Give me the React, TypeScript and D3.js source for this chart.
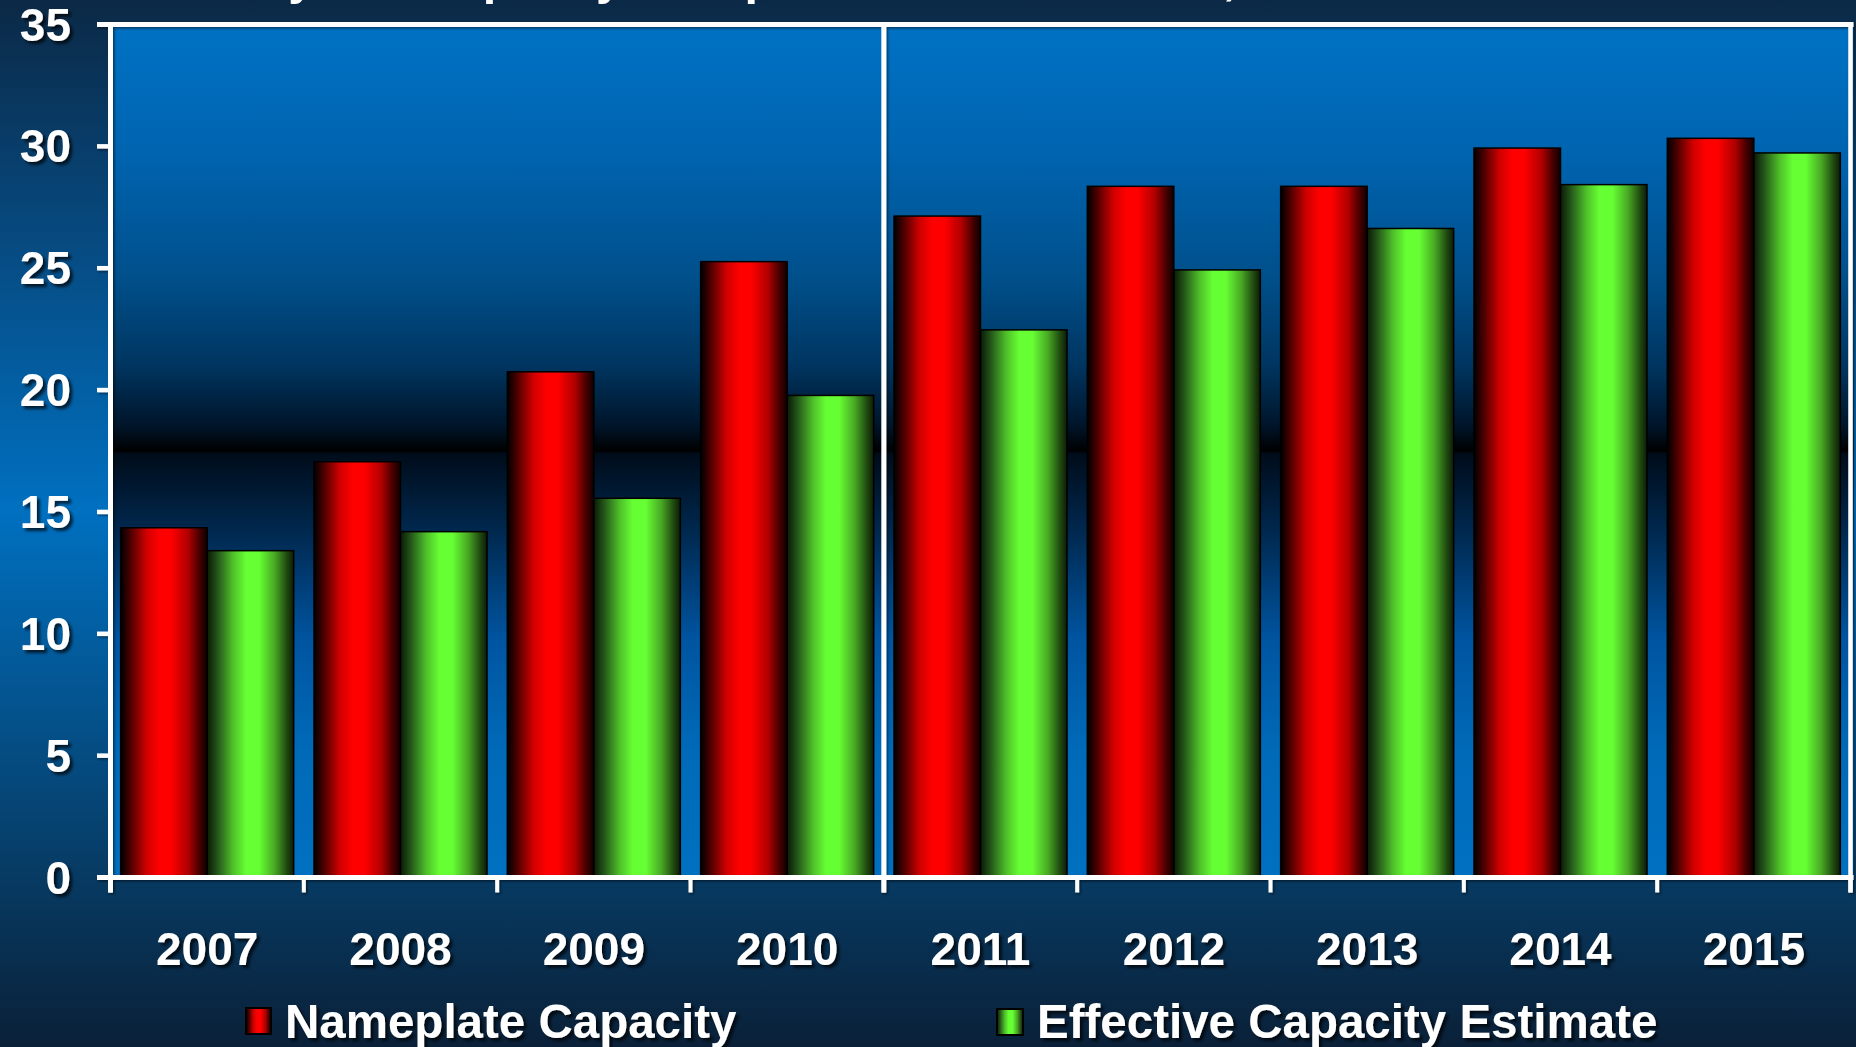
import React, { useEffect } from 'react';
import * as d3 from 'd3';

const years = ['2007', '2008', '2009', '2010', '2011', '2012', '2013', '2014', '2015'];
const nameplate = [14.35, 17.06, 20.75, 25.27, 27.14, 28.36, 28.36, 29.93, 30.33];
const effective = [13.41, 14.19, 15.56, 19.78, 22.47, 24.93, 26.63, 28.43, 29.73];
const yTicks = [0, 5, 10, 15, 20, 25, 30, 35];
const seriesNames = ['Nameplate Capacity', 'Effective Capacity Estimate'];
const titleText = 'Yearly Net Capacity Comparison 2007 to 2015, Million Tons';

const W = 1856;
const H = 1047;
const L = 110.5;
const R = 1850.5;
const T = 24.5;
const B = 877.5;

export default function App() {
  useEffect(() => {
    document.body.style.margin = '0';
  }, []);

  const x = d3.scaleBand<string>().domain(years).range([L, R]).paddingInner(0.105).paddingOuter(0.0525);
  const y = d3.scaleLinear().domain([0, 35]).range([B, T]);
  const step = x.step();
  const bw = x.bandwidth() / 2;
  const font = "'Liberation Sans', Arial, sans-serif";
  const boundaries = d3.range(years.length + 1).map((i) => L + i * step);
  const dividerX = L + 4 * step;

  return (
    <svg width={W} height={H} style={{ display: 'block', position: 'absolute', left: 0, top: 0 }}>
      <defs>
        <linearGradient id="outerBg" x1="0" y1="0" x2="0" y2={H} gradientUnits="userSpaceOnUse">
          <stop offset="0" stopColor="#0b2946" />
          <stop offset="0.25" stopColor="#064d85" />
          <stop offset="0.487" stopColor="#0070c0" />
          <stop offset="0.84" stopColor="#073a62" />
          <stop offset="1" stopColor="#0a2038" />
        </linearGradient>
        <linearGradient id="plotBg" x1="0" y1={T} x2="0" y2={B} gradientUnits="userSpaceOnUse">
          <stop offset="0" stopColor="#0072c4" />
          <stop offset="0.15" stopColor="#0064b0" />
          <stop offset="0.3" stopColor="#004f8a" />
          <stop offset="0.4" stopColor="#003560" />
          <stop offset="0.47" stopColor="#00152a" />
          <stop offset="0.5" stopColor="#000000" />
          <stop offset="0.503" stopColor="#000c1a" />
          <stop offset="0.6" stopColor="#002a52" />
          <stop offset="0.72" stopColor="#0054a0" />
          <stop offset="0.85" stopColor="#006ab8" />
          <stop offset="1" stopColor="#0070c0" />
        </linearGradient>
        <linearGradient id="redG" x1="0" y1="0" x2="1" y2="0">
          <stop offset="0" stopColor="#000000" />
          <stop offset="0.12" stopColor="#500000" />
          <stop offset="0.3" stopColor="#d00000" />
          <stop offset="0.45" stopColor="#ff0000" />
          <stop offset="0.58" stopColor="#ff0000" />
          <stop offset="0.78" stopColor="#b00000" />
          <stop offset="0.92" stopColor="#400000" />
          <stop offset="1" stopColor="#100000" />
        </linearGradient>
        <linearGradient id="greenG" x1="0" y1="0" x2="1" y2="0">
          <stop offset="0" stopColor="#0a1a05" />
          <stop offset="0.12" stopColor="#24561a" />
          <stop offset="0.3" stopColor="#4fc02a" />
          <stop offset="0.45" stopColor="#66ff33" />
          <stop offset="0.6" stopColor="#66ff33" />
          <stop offset="0.78" stopColor="#48a824" />
          <stop offset="0.92" stopColor="#204a10" />
          <stop offset="1" stopColor="#0c1c06" />
        </linearGradient>
        <filter id="ts" x="-10%" y="-20%" width="130%" height="150%">
          <feDropShadow dx="3" dy="3" stdDeviation="1.8" floodColor="#000000" floodOpacity="0.7" />
        </filter>
        <filter id="ls" x="-1%" y="-50%" width="102%" height="300%">
          <feDropShadow dx="1.5" dy="1.5" stdDeviation="1" floodColor="#000000" floodOpacity="0.5" />
        </filter>
      </defs>

      <rect x={0} y={0} width={W} height={H} fill="url(#outerBg)" />

      <text x={172} y={-6} fill="#ffffff" fontFamily={font} fontWeight="bold" fontSize={48.6}>
        {titleText}
      </text>

      <rect x={L} y={T} width={R - L + 3} height={B - T} fill="url(#plotBg)" />

      {years.map((yr, i) => (
        <g key={yr}>
          <rect
            x={x(yr)!}
            y={y(nameplate[i])}
            width={bw}
            height={y(0) - y(nameplate[i])}
            fill="url(#redG)"
            stroke="#000"
            strokeWidth={1.5}
          />
          <rect
            x={x(yr)! + bw}
            y={y(effective[i])}
            width={bw}
            height={y(0) - y(effective[i])}
            fill="url(#greenG)"
            stroke="#000"
            strokeWidth={1.5}
          />
        </g>
      ))}

      <g filter="url(#ls)">
        <line x1={97} x2={R + 3} y1={T} y2={T} stroke="#fff" strokeWidth={5} />
        <line x1={L} x2={L} y1={T - 2.5} y2={B + 15} stroke="#fff" strokeWidth={5} />
        <line x1={R} x2={R} y1={T - 2.5} y2={B + 15} stroke="#fff" strokeWidth={4.5} />
        <line x1={dividerX} x2={dividerX} y1={T} y2={B + 15} stroke="#fff" strokeWidth={5} />
        <line x1={97} x2={R + 3} y1={B} y2={B} stroke="#fff" strokeWidth={5} />
        {yTicks.map((t) => (
          <line key={t} x1={97} x2={L} y1={y(t)} y2={y(t)} stroke="#fff" strokeWidth={4.5} />
        ))}
        {boundaries.map((bx, i) => (
          <line key={i} x1={bx} x2={bx} y1={B} y2={B + 15} stroke="#fff" strokeWidth={4} />
        ))}
      </g>

      {yTicks.map((t) => (
        <text
          key={t}
          x={71}
          y={y(t) + 16}
          textAnchor="end"
          fill="#fff"
          fontFamily={font}
          fontWeight="bold"
          fontSize={46}
          filter="url(#ts)"
        >
          {t}
        </text>
      ))}

      {years.map((yr) => (
        <text
          key={yr}
          x={x(yr)! + x.bandwidth() / 2}
          y={965}
          textAnchor="middle"
          fill="#fff"
          fontFamily={font}
          fontWeight="bold"
          fontSize={46}
          filter="url(#ts)"
        >
          {yr}
        </text>
      ))}

      <rect x={246} y={1008} width={25} height={26} fill="url(#redG)" stroke="#000" strokeWidth={2} />
      <text x={285} y={1038} fill="#fff" fontFamily={font} fontWeight="bold" fontSize={47.5} filter="url(#ts)">
        {seriesNames[0]}
      </text>
      <rect x={997} y={1009} width={26} height={26} fill="url(#greenG)" stroke="#000" strokeWidth={2} />
      <text x={1037} y={1038} fill="#fff" fontFamily={font} fontWeight="bold" fontSize={47.5} filter="url(#ts)">
        {seriesNames[1]}
      </text>
    </svg>
  );
}
